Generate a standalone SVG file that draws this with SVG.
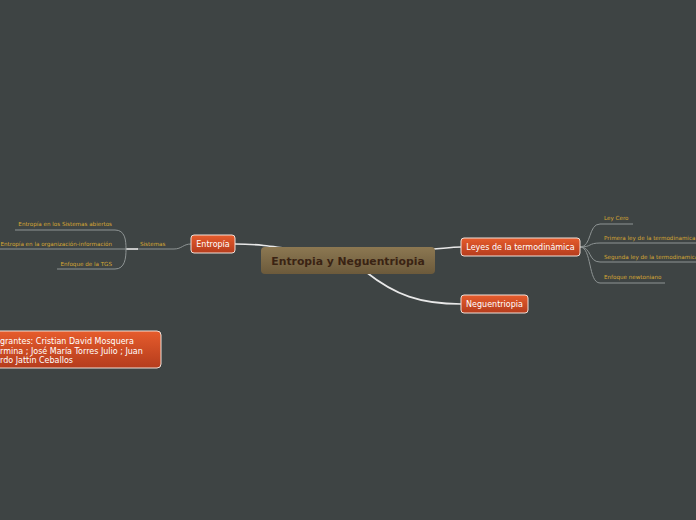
<svg xmlns="http://www.w3.org/2000/svg" width="696" height="520" viewBox="0 0 696 520">
<defs>
<linearGradient id="og" x1="0" y1="0" x2="0" y2="1"><stop offset="0" stop-color="#e65c2c"/><stop offset="1" stop-color="#b53c1d"/></linearGradient>
<linearGradient id="bg" x1="0" y1="0" x2="0" y2="1"><stop offset="0" stop-color="#8c7852"/><stop offset="1" stop-color="#6c5a3b"/></linearGradient>
<style>
.main{fill:url(#og);stroke:#f0e0d8;stroke-width:1}
.nt{font-family:"DejaVu Sans",sans-serif;font-size:8px;fill:#ffffff}
.sub{font-family:"DejaVu Sans",sans-serif;font-size:5.6px;fill:#d6a733}
.ul{fill:none;stroke:#8e9494;stroke-width:1}
.cn{fill:none;stroke:#e8e8e8;stroke-width:1.6}
</style>
</defs>
<rect width="696" height="520" fill="#3e4444"/>
<g id="connectors">
<path class="cn" d="M235,244 C255,244 270,246 300,250"/>
<path class="cn" d="M420,250 C440,249 450,247 461,247"/>
<path class="cn" d="M366,272 C395,295 420,304 461,304"/>
<path class="ul" d="M191,244 C183,244 182,249 174,249 H137"/>
<path class="cn" stroke-width="1.2" d="M126,249 H138"/>
<path class="ul" d="M15,230 H115 C125,230 126,240 126,249 C126,258 125,269 115,269 H57"/>
<path class="ul" d="M0,249 H126"/>
<path class="ul" d="M580,247 C592,247 588,224 600,224 H633"/>
<path class="ul" d="M580,247 C592,247 588,243 600,243 H696"/>
<path class="ul" d="M580,247 C592,247 588,262 600,262 H696"/>
<path class="ul" d="M580,247 C592,247 588,283 600,283 H665"/>
</g>
<g id="central">
<rect x="261" y="247" width="174" height="27" rx="4" fill="url(#bg)"/>
<text x="348" y="265" text-anchor="middle" font-family="DejaVu Sans,sans-serif" font-size="10.8" font-weight="bold" fill="#3a2313">Entropia y Neguentriopia</text>
</g>
<g id="entropia">
<rect class="main" x="191" y="235" width="44" height="18" rx="3"/>
<text class="nt" x="213" y="247" text-anchor="middle">Entropía</text>
</g>
<g id="leyes">
<rect class="main" x="461" y="238" width="119" height="18" rx="3"/>
<text class="nt" x="520.5" y="250" text-anchor="middle">Leyes de la termodinámica</text>
</g>
<g id="neguentriopia">
<rect class="main" x="461" y="295" width="67" height="18" rx="3"/>
<text class="nt" x="494.5" y="307" text-anchor="middle">Neguentriopia</text>
</g>
<g id="integrantes">
<rect class="main" x="-10" y="331" width="171" height="37" rx="4"/>
<text class="nt" x="0" y="344">grantes: Cristian David Mosquera</text>
<text class="nt" x="0" y="353.5">rmina ; José María Torres Julio ; Juan</text>
<text class="nt" x="0" y="363">rdo Jattin Ceballos</text>
</g>
<g id="sistemas">
<text class="sub" x="140" y="246">Sistemas</text>
</g>
<g id="sub-left">
<text class="sub" x="112" y="226" text-anchor="end">Entropía en los Sistemas abiertos</text>
<text class="sub" x="112" y="245.5" text-anchor="end">Entropía en la organización-información</text>
<text class="sub" x="112" y="265.5" text-anchor="end">Enfoque de la TGS</text>
</g>
<g id="sub-right">
<text class="sub" x="604" y="220">Ley Cero</text>
<text class="sub" x="604" y="240">Primera ley de la termodinamica</text>
<text class="sub" x="604" y="259">Segunda ley de la termodinamica</text>
<text class="sub" x="604" y="279">Enfoque newtoniano</text>
</g>
</svg>
